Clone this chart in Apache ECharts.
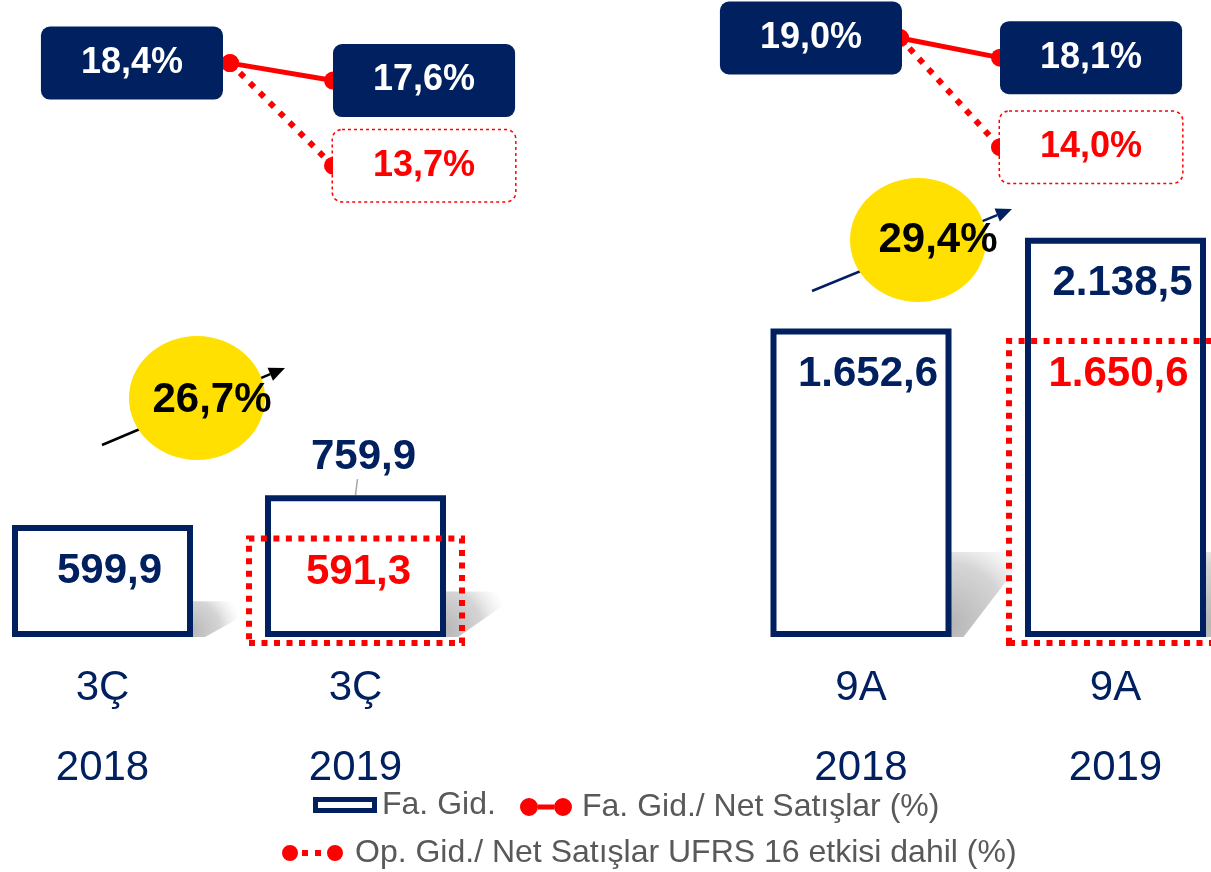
<!DOCTYPE html>
<html>
<head>
<meta charset="utf-8">
<script src="https://cdn.jsdelivr.net/npm/echarts@6/dist/echarts.min.js"></script>
<style>
  html, body { margin: 0; padding: 0; background: #fff; }
  #main { width: 1211px; height: 872px; }
</style>
</head>
<body>
<div id="main"></div>
<script>
var years = ['2018', '2019'];
var periodsLeft = ['3Ç', '3Ç'];
var periodsRight = ['9A', '9A'];
var faGidLeft = [599.9, 759.9];
var faGidRight = [1652.6, 2138.5];
var ufrsLeft = [null, 591.3];
var ufrsRight = [null, 1650.6];
var ratioLeft = [18.4, 17.6];
var ratioRight = [19.0, 18.1];
var opRatioLeft = [18.4, 13.7];
var opRatioRight = [19.0, 14.0];
var growthLabels = ['26,7%', '29,4%'];

var navy = '#002060';
var red = '#FF0000';
var font = 'Liberation Sans, Arial, sans-serif';
var barW = 181;

function fmt(v) {
  var s = v.toFixed(1).split('.');
  return s[0].replace(/\B(?=(\d{3})+(?!\d))/g, '.') + ',' + s[1];
}
function pct(p) { return fmt(p.value) + '%'; }

// label boxes of the ratio lines (distance is counted from the marker edge)
var navyBox = {
  show: true, formatter: pct, position: 'right', distance: -9,
  color: '#fff', fontSize: 36, fontWeight: 'bold', fontFamily: font,
  backgroundColor: navy, borderRadius: 9, padding: [18, 40], lineHeight: 37
};
var redBox = {
  show: true, formatter: pct, position: 'right', distance: -9,
  color: red, fontSize: 36, fontWeight: 'bold', fontFamily: font,
  backgroundColor: '#fff', borderColor: red, borderWidth: 1.5, borderType: 'dotted',
  borderRadius: 9, padding: [17, 40], lineHeight: 37
};

function barItems(values, topIndex) {
  return values.map(function (v, i) {
    if (i === topIndex) return { value: v, label: { position: 'top', distance: 17, offset: [8, 0] } };
    return v;
  });
}
function lineItems(values, firstLabel) {
  return values.map(function (v, i) { return i === 0 ? { value: v, label: firstLabel } : v; });
}

function arrow(x1, y1, x2, y2, color) {
  var dx = x2 - x1, dy = y2 - y1, len = Math.sqrt(dx * dx + dy * dy);
  var ux = dx / len, uy = dy / len, hl = 16, hw = 7;
  var bx = x2 - ux * hl, by = y2 - uy * hl;
  return [
    { type: 'line', z: 1, shape: { x1: x1, y1: y1, x2: bx, y2: by }, style: { stroke: color, lineWidth: 2.5 } },
    { type: 'polygon', z: 1, shape: { points: [[x2, y2], [bx - uy * hw, by + ux * hw], [bx + uy * hw, by - ux * hw]] }, style: { fill: color } }
  ];
}

function bubble(cx, cy, tx, ty, text) {
  return [
    { type: 'circle', z: 2, x: cx, y: cy, scaleX: 68 / 62, shape: { cx: 0, cy: 0, r: 62 }, style: { fill: '#FFE000' } },
    { type: 'text', z: 3, x: tx, y: ty, style: { text: text, font: 'bold 42px ' + font, fill: '#000', align: 'center', verticalAlign: 'middle', textAlign: 'center', textVerticalAlign: 'middle' } }
  ];
}

var chart = echarts.init(document.getElementById('main'));

var catAxis = function (grid, periods, show) {
  return {
    type: 'category', gridIndex: grid, data: years, show: show,
    axisLine: { show: false }, axisTick: { show: false },
    axisLabel: {
      margin: 31, color: navy, fontSize: 42, fontFamily: font, lineHeight: 40,
      formatter: function (v, i) { return periods[i] + '\n\n' + v; }
    }
  };
};
var lineAxis = function (grid) {
  return { type: 'category', gridIndex: grid, data: years, show: false, boundaryGap: false };
};
var valAxis = function (grid, min, max) {
  return { type: 'value', gridIndex: grid, min: min, max: max, show: false, splitLine: { show: false } };
};
var makeGrid = function (left, width, top, height) {
  return { left: left, width: width, top: top, height: height, outerBoundsMode: 'none', containLabel: false };
};

var mainLabel = {
  show: true, position: 'insideTop', distance: 25, offset: [7, 0],
  formatter: function (p) { return fmt(p.value); },
  color: navy, fontSize: 42, fontWeight: 'bold', fontFamily: font
};
var ufrsLabel = {
  show: true, position: 'insideTop', distance: 16, offset: [3, 0],
  formatter: function (p) { return fmt(p.value); },
  color: red, fontSize: 42, fontWeight: 'bold', fontFamily: font
};

var option = {
  animation: false,
  backgroundColor: '#fff',
  grid: [
    makeGrid(-24, 506, 77, 560),
    makeGrid(733.75, 509, 77, 560),
    makeGrid(-24, 506, 86, 560),
    makeGrid(733.75, 509, 86, 560),
    makeGrid(230, 103, 50, 131),
    makeGrid(900, 100, 38, 131)
  ],
  xAxis: [
    catAxis(0, periodsLeft, true),
    catAxis(1, periodsRight, true),
    catAxis(2, periodsLeft, false),
    catAxis(3, periodsRight, false),
    lineAxis(4),
    lineAxis(5)
  ],
  yAxis: [
    valAxis(0, 0, 3000), valAxis(1, 0, 3000),
    valAxis(2, 0, 3000), valAxis(3, 0, 3000),
    valAxis(4, 13, 19), valAxis(5, 13, 19)
  ],
  legend: [
    {
      left: 313, top: 789, padding: 0, itemWidth: 64, itemHeight: 16,
      textStyle: { fontSize: 32, color: '#595959', fontFamily: font },
      data: [{ name: 'Fa. Gid.', icon: 'path://M0,0 L64,0 L64,16 L0,16 Z M5,5 L5,11 L59,11 L59,5 Z', itemStyle: { color: navy, borderWidth: 0 } }]
    },
    {
      left: 520, top: 791, padding: 0, itemWidth: 52, itemHeight: 18,
      textStyle: { fontSize: 32, color: '#595959', fontFamily: font, padding: [0, 0, 0, 5] },
      data: [{ name: 'Fa. Gid./ Net Satışlar (%)', icon: 'path://M9,0 A9,9 0 1,0 9,18 A9,9 0 1,0 9,0 Z M43,0 A9,9 0 1,0 43,18 A9,9 0 1,0 43,0 Z M18,6.5 L34,6.5 L34,11.5 L18,11.5 Z', itemStyle: { color: red, borderWidth: 0 } }]
    },
    {
      left: 282, top: 837, padding: 0, itemWidth: 61, itemHeight: 16,
      textStyle: { fontSize: 32, color: '#595959', fontFamily: font, padding: [0, 0, 0, 7] },
      data: [{ name: 'Op. Gid./ Net Satışlar UFRS 16 etkisi dahil (%)', icon: 'path://M8,0 A8,8 0 1,0 8,16 A8,8 0 1,0 8,0 Z M53,0 A8,8 0 1,0 53,16 A8,8 0 1,0 53,0 Z M20,5 L26,5 L26,11 L20,11 Z M33,5 L39,5 L39,11 L33,11 Z', itemStyle: { color: red, borderWidth: 0 } }]
    }
  ],
  series: [
    {
      name: 'Fa. Gid.', type: 'bar', xAxisIndex: 0, yAxisIndex: 0, barWidth: barW,
      data: barItems(faGidLeft, 1),
      itemStyle: { color: '#fff', borderColor: navy, borderWidth: 6 },
      label: mainLabel, z: 2
    },
    {
      name: 'Fa. Gid.', type: 'bar', xAxisIndex: 1, yAxisIndex: 1, barWidth: barW,
      data: barItems(faGidRight, -1),
      itemStyle: { color: '#fff', borderColor: navy, borderWidth: 6 },
      label: mainLabel, z: 2
    },
    {
      name: 'Fa. Gid. UFRS 16', type: 'bar', xAxisIndex: 2, yAxisIndex: 2, barWidth: 219,
      data: ufrsLeft,
      itemStyle: { color: 'rgba(0,0,0,0)', borderColor: red, borderWidth: 6, borderType: [6, 6.5] },
      label: ufrsLabel, z: 3
    },
    {
      name: 'Fa. Gid. UFRS 16', type: 'bar', xAxisIndex: 3, yAxisIndex: 3, barWidth: 219,
      data: ufrsRight,
      itemStyle: { color: 'rgba(0,0,0,0)', borderColor: red, borderWidth: 6, borderType: [6, 6.5] },
      label: ufrsLabel, z: 3
    },
    {
      name: 'Op. Gid./ Net Satışlar UFRS 16 etkisi dahil (%)', type: 'line', xAxisIndex: 4, yAxisIndex: 4, clip: false, z: 5,
      data: lineItems(opRatioLeft, { show: false }),
      symbol: 'circle', symbolSize: 18, itemStyle: { color: red },
      lineStyle: { color: red, width: 6, type: [6, 8] }, label: redBox
    },
    {
      name: 'Fa. Gid./ Net Satışlar (%)', type: 'line', xAxisIndex: 4, yAxisIndex: 4, clip: false, z: 6,
      data: lineItems(ratioLeft, { position: 'left', distance: -2 }),
      symbol: 'circle', symbolSize: 18, itemStyle: { color: red },
      lineStyle: { color: red, width: 5 }, label: navyBox
    },
    {
      name: 'Op. Gid./ Net Satışlar UFRS 16 etkisi dahil (%)', type: 'line', xAxisIndex: 5, yAxisIndex: 5, clip: false, z: 5,
      data: lineItems(opRatioRight, { show: false }),
      symbol: 'circle', symbolSize: 18, itemStyle: { color: red },
      lineStyle: { color: red, width: 6, type: [6, 8] }, label: redBox
    },
    {
      name: 'Fa. Gid./ Net Satışlar (%)', type: 'line', xAxisIndex: 5, yAxisIndex: 5, clip: false, z: 6,
      data: lineItems(ratioRight, { position: 'left', distance: -11 }),
      symbol: 'circle', symbolSize: 18, itemStyle: { color: red },
      lineStyle: { color: red, width: 5 }, label: navyBox
    }
  ],
  graphic: [].concat(
    arrow(102, 445, 285, 368, '#000'),
    bubble(197, 398, 212, 400, growthLabels[0]),
    arrow(812, 291, 1012, 209, navy),
    bubble(918, 240, 938, 240, growthLabels[1])
  )
};

chart.setOption(option);

// soft floor shadows behind the bars + leader line of the 2019 label, placed from the axes
var extras = [];
[[0, faGidLeft], [1, faGidRight]].forEach(function (pair) {
  pair[1].forEach(function (v, i) {
    var top = chart.convertToPixel({ xAxisIndex: pair[0], yAxisIndex: pair[0] }, [i, v]);
    var base = chart.convertToPixel({ xAxisIndex: pair[0], yAxisIndex: pair[0] }, [i, 0]);
    var rx = top[0] + barW / 2, h = base[1] - top[1];
    var sh = Math.min(h * 0.32, 85), sw = 64;
    extras.push({
      type: 'polygon', z: 0,
      shape: { points: [[rx - 4, base[1]], [rx - 4, base[1] - sh], [rx + sw, base[1] - sh], [rx + sw, base[1] - sh * 0.8], [rx + 12, base[1]]] },
      style: {
        fill: new echarts.graphic.RadialGradient(0, 0.85, 1.5, [
          { offset: 0, color: 'rgba(175,175,175,0.95)' },
          { offset: 0.6, color: 'rgba(195,195,195,0.7)' },
          { offset: 1, color: 'rgba(230,230,230,0)' }
        ])
      }
    });
  });
});
var p = chart.convertToPixel({ xAxisIndex: 0, yAxisIndex: 0 }, [1, faGidLeft[1]]);
extras.push({ type: 'line', z: 1, shape: { x1: p[0] + 2, y1: p[1] - 16, x2: p[0], y2: p[1] }, style: { stroke: '#A6A6A6', lineWidth: 1.5 } });
chart.setOption({ graphic: option.graphic.concat(extras) });
</script>
</body>
</html>
